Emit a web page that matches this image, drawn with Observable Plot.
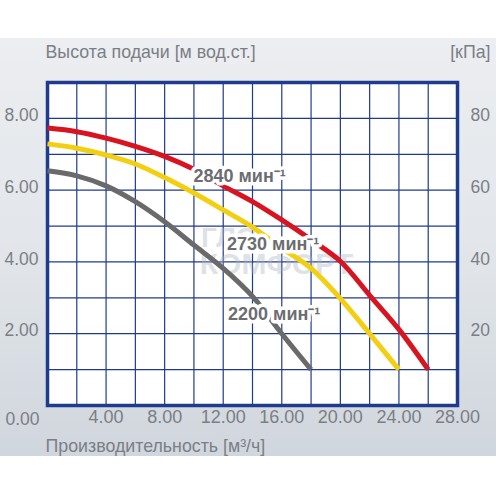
<!DOCTYPE html>
<html>
<head>
<meta charset="utf-8">
<script src="https://cdn.jsdelivr.net/npm/d3@7"></script>
<script src="https://cdn.jsdelivr.net/npm/@observablehq/plot@0.6"></script>
<style>
  html, body { margin: 0; padding: 0; background: #ffffff; }
  #wrap { position: relative; width: 496px; height: 496px; overflow: hidden; }
  #panel { position: absolute; left: 0; top: 38px; width: 496px; height: 418px;
           background: linear-gradient(to bottom, #eceef1 0%, #e2e6ea 50%, #d0d6dd 100%); }
  #chart { position: absolute; left: 0; top: 0; }
</style>
</head>
<body>
<div id="wrap"><div id="panel"></div><div id="chart"></div></div>
<script>
// Flow (m³/h) and head (m)
const q2840 = [0, 2, 4, 6, 8, 10, 12, 14, 16, 18, 20, 22, 24, 26];
const h2840 = [7.73, 7.63, 7.45, 7.22, 6.94, 6.58, 6.12, 5.68, 5.17, 4.62, 4.02, 3.07, 2.12, 1.0];
const q2730 = [0, 2, 4, 6, 8, 10, 12, 14, 16, 18, 20, 22, 24];
const h2730 = [7.29, 7.17, 6.98, 6.73, 6.35, 5.92, 5.45, 4.97, 4.38, 3.82, 2.98, 2.0, 1.0];
const q2200 = [0, 2, 4, 6, 8, 10, 12, 14, 16, 18];
const h2200 = [6.54, 6.40, 6.12, 5.68, 5.12, 4.47, 3.82, 3.04, 2.0, 1.0];

const speeds = ["2840", "2730", "2200"];
const labelQ = [9.97, 12.26, 12.33];
const labelH = [6.23, 4.33, 2.37];

const xTicks = [4, 8, 12, 16, 20, 24, 28];
const yTicks = [2, 4, 6, 8];
const kpaTicks = [20, 40, 60, 80];
const cornerTick = [0];
const gridQ = [0, 2, 4, 6, 8, 10, 12, 14, 16, 18, 20, 22, 24, 26, 28];
const gridH = [0, 1, 2, 3, 4, 5, 6, 7, 8, 9];

const yTitle = "Высота подачи [м вод.ст.]";
const xTitle = "Производительность [м³/ч]";
const kpaTitle = "[кПа]";
const unit = " мин⁻¹";
const watermark1 = "ГЛС";
const watermark2 = "КОМФОРТ";

const colors = {"2840": "#d7141f", "2730": "#f3cf12", "2200": "#6a6a6a"};

const curves = [
  ...q2840.map((q, i) => ({speed: "2840", q, h: h2840[i]})),
  ...q2730.map((q, i) => ({speed: "2730", q, h: h2730[i]})),
  ...q2200.map((q, i) => ({speed: "2200", q, h: h2200[i]}))
];
const labels = speeds.map((s, i) => ({speed: s, q: labelQ[i], h: labelH[i], text: s + unit}));

const navy = "#1f3b8e";
const gray = "#7b7f85";
const font = "'Liberation Sans', Arial, sans-serif";

const chart = Plot.plot({
  width: 496,
  height: 496,
  marginTop: 82,
  marginBottom: 91,
  marginLeft: 47,
  marginRight: 39,
  style: {background: "transparent", fontFamily: font},
  x: {domain: [0, 28]},
  y: {domain: [0, 9]},
  marks: [
    Plot.frame({fill: "white", stroke: "none"}),
    Plot.ruleX(gridQ, {stroke: navy, strokeWidth: 1.2}),
    Plot.ruleY(gridH, {stroke: navy, strokeWidth: 1.2}),
    Plot.frame({stroke: navy, strokeWidth: 3.5}),
    Plot.text([watermark1], {frameAnchor: "middle", dx: -24, dy: -6, fontSize: 28, fontWeight: "bold", fill: "#a9b2bb", fillOpacity: 0.4}),
    Plot.text([watermark2], {frameAnchor: "middle", dx: 24, dy: 20, fontSize: 30, fontWeight: "bold", fill: "#a9b2bb", fillOpacity: 0.4}),
    Plot.line(curves, {x: "q", y: "h", z: "speed", stroke: d => colors[d.speed], strokeWidth: 5, curve: "catmull-rom", strokeLinecap: "butt"}),
    Plot.text(labels, {x: "q", y: "h", text: "text", textAnchor: "start", lineAnchor: "bottom",
      fontSize: 18, fontWeight: "bold", fill: "#6b6d70", stroke: "white", strokeWidth: 7}),
    Plot.axisX(xTicks, {anchor: "bottom", tickSize: 0, tickPadding: 5, tickFormat: d => d.toFixed(2), fontSize: 18, fill: gray, label: null}),
    Plot.axisY(yTicks, {anchor: "left", tickSize: 0, tickPadding: 9, dy: -3, tickFormat: d => d.toFixed(2), fontSize: 17.5, fill: gray, label: null}),
    Plot.axisY(cornerTick, {anchor: "left", tickSize: 0, tickPadding: 8, dy: 14, tickFormat: d => d.toFixed(2), fontSize: 17.5, fill: gray, label: null}),
    Plot.axisY(yTicks, {anchor: "right", tickSize: 0, tickPadding: 13, dy: -3, tickFormat: d => String(kpaTicks[yTicks.indexOf(d)]), fontSize: 17.5, fill: gray, label: null}),
    Plot.text([yTitle], {frameAnchor: "top-left", dx: -2, dy: -25, lineAnchor: "bottom", textAnchor: "start", fontSize: 17.8, fill: gray}),
    Plot.text([kpaTitle], {frameAnchor: "top-right", dx: 33, dy: -25, lineAnchor: "bottom", textAnchor: "end", fontSize: 17.8, fill: gray}),
    Plot.text([xTitle], {frameAnchor: "bottom-left", dx: -2, dy: 46, lineAnchor: "bottom", textAnchor: "start", fontSize: 17.8, fill: gray})
  ]
});
document.getElementById("chart").appendChild(chart);
</script>
</body>
</html>
